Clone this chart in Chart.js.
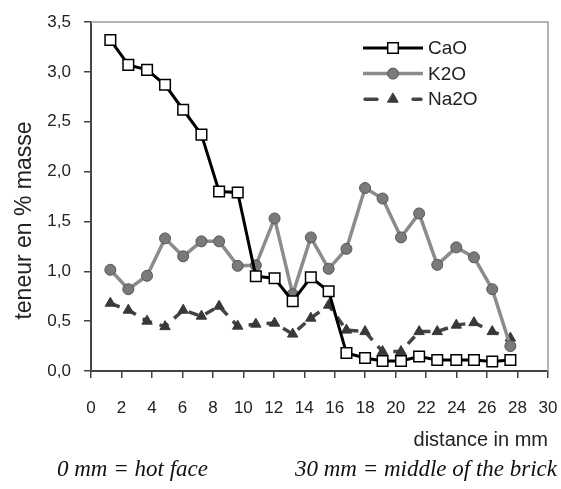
<!DOCTYPE html>
<html><head><meta charset="utf-8">
<script src="https://cdn.jsdelivr.net/npm/chart.js@4/dist/chart.umd.min.js"></script>
<style>html,body{margin:0;padding:0;background:#fff;}#wrap{width:561px;height:489px;position:relative;}</style>
</head><body><div id="wrap"><canvas id="c"></canvas></div>
<script>
const distance = [1.27, 2.45, 3.68, 4.86, 6.05, 7.25, 8.41, 9.63, 10.82, 12.05, 13.24, 14.43, 15.6, 16.77, 17.99, 19.14, 20.35, 21.54, 22.73, 23.98, 25.14, 26.34, 27.53];
const cao  = [3.32, 3.07, 3.02, 2.87, 2.62, 2.37, 1.80, 1.79, 0.95, 0.93, 0.70, 0.94, 0.80, 0.18, 0.13, 0.10, 0.10, 0.145, 0.11, 0.11, 0.11, 0.095, 0.11];
const k2o  = [1.015, 0.82, 0.955, 1.33, 1.15, 1.30, 1.30, 1.055, 1.06, 1.53, 0.77, 1.34, 1.025, 1.225, 1.835, 1.73, 1.34, 1.58, 1.065, 1.24, 1.14, 0.82, 0.25];
const na2o = [0.68, 0.61, 0.50, 0.445, 0.61, 0.55, 0.65, 0.45, 0.47, 0.48, 0.37, 0.53, 0.66, 0.41, 0.395, 0.195, 0.195, 0.395, 0.395, 0.46, 0.485, 0.395, 0.33];
const seriesNames = ['CaO', 'K2O', 'Na2O'];
const xTickValues = [0, 2, 4, 6, 8, 10, 12, 14, 16, 18, 20, 22, 24, 26, 28, 30];
const yTickValues = [0, 0.5, 1, 1.5, 2, 2.5, 3, 3.5];
const xTitle = 'distance in mm';
const yTitle = 'teneur en % masse';
const noteLeft = '0 mm = hot face';
const noteRight = '30 mm = middle of the brick';

const pts = arr => distance.map((d, i) => ({x: d, y: arr[i]}));
const FONT = '"Liberation Sans", Arial, sans-serif';

const framePlugin = {
  id: 'frame',
  beforeDatasetsDraw(chart) {
    const {ctx, chartArea: a} = chart;
    ctx.save();
    ctx.strokeStyle = '#9a9a9a';
    ctx.lineWidth = 1.5;
    ctx.beginPath();
    ctx.moveTo(a.left, a.top); ctx.lineTo(a.right, a.top); ctx.lineTo(a.right, a.bottom);
    ctx.stroke();
    ctx.restore();
  }
};

const yTitlePlugin = {
  id: 'yTitle',
  afterDraw(chart) {
    const {ctx, chartArea: a} = chart;
    ctx.save();
    ctx.translate(25, (a.top + a.bottom) / 2 + 24);
    ctx.rotate(-Math.PI / 2);
    ctx.fillStyle = '#222';
    ctx.font = '23px ' + FONT;
    ctx.textAlign = 'center';
    ctx.textBaseline = 'middle';
    ctx.fillText(yTitle, 0, 0);
    ctx.restore();
  }
};

const legendPlugin = {
  id: 'innerLegend',
  afterDraw(chart) {
    const {ctx, chartArea: a} = chart;
    const x0 = a.right - 185, x1 = x0 + 60, xm = (x0 + x1) / 2;
    chart.data.datasets.forEach((ds, i) => {
      const y = a.top + 26 + i * 25.6;
      ctx.save();
      ctx.strokeStyle = ds.borderColor;
      ctx.lineWidth = ds.borderWidth;
      ctx.lineCap = ds.borderDash ? 'round' : 'butt';
      ctx.beginPath();
      if (ds.borderDash) {
        ctx.moveTo(x0 + 2, y); ctx.lineTo(x0 + 14, y);
        ctx.moveTo(x1 - 10, y); ctx.lineTo(x1 - 2, y);
      } else {
        ctx.moveTo(x0, y); ctx.lineTo(x1, y);
      }
      ctx.stroke();
      ctx.fillStyle = ds.pointBackgroundColor;
      ctx.strokeStyle = ds.pointBorderColor;
      ctx.lineWidth = ds.pointBorderWidth;
      Chart.helpers.drawPoint(ctx, {pointStyle: ds.pointStyle, radius: ds.pointRadius, borderWidth: ds.pointBorderWidth}, xm, y);
      ctx.fillStyle = '#222';
      ctx.font = '19px ' + FONT;
      ctx.textBaseline = 'middle';
      ctx.textAlign = 'left';
      ctx.fillText(ds.label, x1 + 5, y + 1);
      ctx.restore();
    });
  }
};

const notePlugin = {
  id: 'note',
  afterDraw(chart) {
    const {ctx, width, height} = chart;
    ctx.save();
    ctx.fillStyle = '#111';
    ctx.font = 'italic 23px "Liberation Serif", "Times New Roman", serif';
    ctx.textBaseline = 'middle';
    ctx.textAlign = 'left';
    ctx.fillText(noteLeft, 57, height - 19);
    ctx.textAlign = 'right';
    ctx.fillText(noteRight, width - 4, height - 19);
    ctx.restore();
  }
};

new Chart(document.getElementById('c'), {
  type: 'line',
  data: {
    datasets: [
      {label: seriesNames[0], data: pts(cao), borderColor: '#000', borderWidth: 3,
       pointStyle: 'rect', pointRadius: 7.5, pointHoverRadius: 7.5, pointBackgroundColor: '#fff', pointBorderColor: '#000', pointBorderWidth: 1.5, tension: 0},
      {label: seriesNames[1], data: pts(k2o), borderColor: '#8c8c8c', borderWidth: 3.5,
       pointStyle: 'circle', pointRadius: 5.5, pointHoverRadius: 5.5, pointBackgroundColor: '#7a7a7a', pointBorderColor: '#555', pointBorderWidth: 1, tension: 0},
      {label: seriesNames[2], data: pts(na2o), borderColor: '#444', borderWidth: 3.5, borderDash: [10, 8],
       pointStyle: 'triangle', pointRadius: 6, pointHoverRadius: 6, pointBackgroundColor: '#383838', pointBorderColor: '#383838', pointBorderWidth: 1, tension: 0}
    ]
  },
  options: {
    responsive: true,
    maintainAspectRatio: false,
    animation: false,
    layout: {padding: {left: 0, right: 13, top: 22, bottom: 30}},
    plugins: {legend: {display: false}, tooltip: {enabled: false}},
    scales: {
      x: {
        type: 'linear', min: 0, max: 30,
        afterFit: s => { s.height = 88; s.paddingLeft = 0; s.paddingRight = 0; },
        afterBuildTicks: s => { s.ticks = xTickValues.map(v => ({value: v})); },
        grid: {drawOnChartArea: false, drawTicks: true, tickLength: 7, color: '#444', lineWidth: 1.5},
        border: {color: '#444', width: 2},
        ticks: {color: '#222', font: {family: FONT, size: 17}, padding: 20, maxRotation: 0, autoSkip: false},
        title: {display: true, text: xTitle, align: 'end', color: '#222', font: {family: FONT, size: 20}, padding: {top: 0, bottom: 7}}
      },
      y: {
        min: 0, max: 3.5,
        afterFit: s => { s.width = 91; s.paddingTop = 0; s.paddingBottom = 0; },
        afterBuildTicks: s => { s.ticks = yTickValues.map(v => ({value: v})); },
        grid: {drawOnChartArea: false, drawTicks: true, tickLength: 7, color: '#444', lineWidth: 1.5},
        border: {color: '#444', width: 2},
        ticks: {color: '#222', font: {family: FONT, size: 17}, padding: 13,
                callback: v => v.toFixed(1).replace('.', ',')},
        title: {display: false}
      }
    }
  },
  plugins: [framePlugin, yTitlePlugin, legendPlugin, notePlugin]
});
</script></body></html>
